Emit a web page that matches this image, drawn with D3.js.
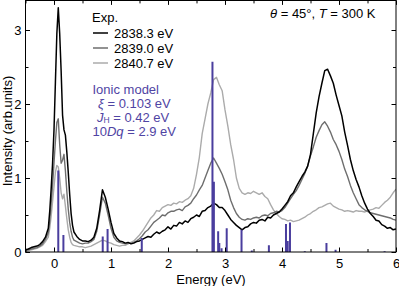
<!DOCTYPE html>
<html><head><meta charset="utf-8">
<script src="https://cdn.jsdelivr.net/npm/d3@7"></script>
<style>
body{margin:0;background:#fff}
svg{display:block}
text{font-family:"Liberation Sans",Arial,Helvetica,sans-serif}
</style>
</head><body>
<svg id="c" width="399" height="286"></svg>
<script>
// Energy grid (eV)
const energy = [
 -0.5,-0.45,-0.4,-0.35,-0.3,-0.25,-0.2,-0.15,
 -0.1,-0.075,-0.05,-0.025,0,0.025,0.05,0.075,0.1,0.125,0.15,0.175,0.2,0.225,0.25,0.275,0.3,0.325,0.35,
 0.40,0.45,0.50,0.55,0.60,0.65,0.70,0.75,0.80,0.85,
 0.90,0.95,1.00,1.05,1.10,1.15,1.20,1.25,1.30,1.35,
 1.40,1.45,1.50,1.55,1.60,1.65,1.70,1.75,1.80,1.85,
 1.90,1.95,2.00,2.05,2.10,2.15,2.20,2.25,2.30,2.35,
 2.40,2.45,2.50,2.55,2.60,2.65,2.70,2.75,2.80,2.85,
 2.90,2.95,3.00,3.05,3.10,3.15,3.20,3.25,3.30,3.35,
 3.40,3.45,3.50,3.55,3.60,3.65,3.70,3.75,3.80,3.85,
 3.90,3.95,4.00,4.05,4.10,4.15,4.20,4.25,4.30,4.35,
 4.40,4.45,4.50,4.55,4.60,4.65,4.70,4.75,4.80,4.85,
 4.90,4.95,5.00,5.05,5.10,5.15,5.20,5.25,5.30,5.35,
 5.40,5.45,5.50,5.55,5.60,5.65,5.70,5.75,5.80,5.85,
 5.90,5.95,6.00
];
// Experimental spectra (arb. units)
const exp2838_3 = [
 0.03,0.04,0.06,0.07,0.08,0.10,0.14,0.20,
 0.32,0.55,0.85,1.20,1.65,2.30,2.95,3.30,2.95,2.45,1.85,1.65,1.58,1.35,1.08,0.78,0.52,0.36,0.27,
 0.21,0.17,0.15,0.15,0.14,0.16,0.20,0.32,0.56,0.84,
 0.74,0.58,0.40,0.25,0.19,0.15,0.14,0.12,0.13,0.11,
 0.12,0.14,0.15,0.17,0.19,0.21,0.20,0.24,0.27,0.25,
 0.28,0.30,0.34,0.31,0.36,0.35,0.40,0.38,0.42,0.40,
 0.45,0.47,0.50,0.48,0.55,0.56,0.60,0.62,0.66,0.64,
 0.60,0.60,0.56,0.50,0.44,0.40,0.36,0.33,0.30,0.33,
 0.34,0.38,0.40,0.39,0.43,0.44,0.42,0.47,0.46,0.50,
 0.52,0.54,0.58,0.63,0.68,0.76,0.80,0.88,0.95,1.02,
 1.08,1.16,1.32,1.60,1.88,2.10,2.28,2.45,2.47,2.38,
 2.28,2.12,1.98,1.84,1.62,1.44,1.25,1.10,0.98,0.88,
 0.76,0.66,0.58,0.52,0.48,0.43,0.42,0.37,0.35,0.32,
 0.33,0.30,0.31
];
const exp2839_0 = [
 0.02,0.03,0.04,0.05,0.06,0.08,0.11,0.17,
 0.26,0.42,0.65,0.90,1.20,1.50,1.75,1.80,1.45,1.20,1.24,1.32,1.10,0.82,0.58,0.40,0.28,0.20,0.16,
 0.14,0.12,0.11,0.12,0.12,0.14,0.17,0.28,0.50,0.74,
 0.66,0.50,0.32,0.20,0.15,0.13,0.12,0.11,0.12,0.12,
 0.13,0.15,0.18,0.22,0.27,0.30,0.35,0.40,0.43,0.46,
 0.50,0.49,0.53,0.55,0.55,0.57,0.58,0.56,0.61,0.63,
 0.66,0.72,0.77,0.84,0.90,1.00,1.10,1.20,1.27,1.20,
 1.13,1.05,0.95,0.84,0.70,0.60,0.52,0.47,0.44,0.43,
 0.45,0.44,0.46,0.47,0.46,0.49,0.50,0.49,0.52,0.53,
 0.55,0.54,0.56,0.60,0.66,0.72,0.78,0.83,0.90,0.98,
 1.06,1.16,1.30,1.42,1.55,1.64,1.72,1.76,1.70,1.62,
 1.52,1.45,1.36,1.25,1.12,1.02,0.90,0.80,0.72,0.64,
 0.60,0.57,0.55,0.53,0.52,0.51,0.50,0.49,0.48,0.47,
 0.46,0.44,0.43
];
const exp2840_7 = [
 0.01,0.02,0.03,0.04,0.05,0.07,0.09,0.14,
 0.20,0.32,0.48,0.68,0.88,1.08,1.17,1.15,1.00,0.80,0.72,0.78,0.62,0.45,0.30,0.20,0.13,0.10,0.09,
 0.08,0.07,0.07,0.06,0.07,0.08,0.10,0.12,0.14,0.16,
 0.15,0.13,0.12,0.10,0.09,0.08,0.09,0.09,0.11,0.13,
 0.15,0.19,0.23,0.28,0.34,0.40,0.46,0.50,0.56,0.55,
 0.60,0.62,0.64,0.63,0.66,0.65,0.68,0.67,0.70,0.72,
 0.76,0.86,1.05,1.28,1.60,1.80,2.00,2.15,2.33,2.36,
 2.26,2.18,1.92,1.70,1.45,1.25,1.00,0.86,0.80,0.78,
 0.80,0.79,0.82,0.80,0.78,0.80,0.75,0.72,0.64,0.57,
 0.52,0.48,0.45,0.44,0.42,0.43,0.41,0.42,0.43,0.45,
 0.47,0.50,0.52,0.55,0.57,0.60,0.61,0.63,0.65,0.66,
 0.62,0.60,0.58,0.57,0.55,0.56,0.55,0.54,0.56,0.55,
 0.55,0.54,0.56,0.57,0.58,0.60,0.59,0.63,0.67,0.70,
 0.74,0.80,0.85
];
// Ionic model transitions
const stickEnergy    = [0.075,0.165,0.855,0.94,1.54,2.78,2.805,2.88,2.90,2.94,3.03,3.29,3.47,3.77,4.07,4.10,4.14,4.40,4.78,4.94,5.80];
const stickIntensity = [1.10, 0.23, 0.21, 0.31,0.19,2.57,0.95, 0.28,0.12,0.05,0.32,0.30,0.02,0.09,0.38,0.15,0.40,0.01,0.12,0.03,0.01];

const seriesNames  = ["2838.3 eV","2839.0 eV","2840.7 eV"];
const seriesValues = [exp2838_3, exp2839_0, exp2840_7];
const seriesColors = ["#000000","#6e6e6e","#ababab"];
const xTicks = [0,1,2,3,4,5,6];
const yTicks = [0,1,2,3];

const svg = d3.select("#c");
const x = d3.scaleLinear().domain([-0.5,6]).range([25.5,396]);
const y = d3.scaleLinear().domain([0,3.4]).range([252,0.4]);
const fs = 13;

svg.append("defs").append("clipPath").attr("id","clip")
  .append("rect").attr("x",25.5).attr("y",0.4).attr("width",370.5).attr("height",251.6);

// lines
const line = d3.line().x((d,i)=>x(energy[i])).y(d=>y(d));
const g = svg.append("g").attr("clip-path","url(#clip)");
[2,1,0].forEach(k=>{
  g.append("path").datum(seriesValues[k])
   .attr("fill","none").attr("stroke",seriesColors[k])
   .attr("stroke-width",k===0?1.5:1.4).attr("stroke-linejoin","round")
   .attr("d",line);
});
// sticks
g.selectAll("line.stick").data(stickEnergy).enter().append("line")
  .attr("class","stick")
  .attr("x1",d=>x(d)).attr("x2",d=>x(d))
  .attr("y1",y(0)).attr("y2",(d,i)=>y(stickIntensity[i]))
  .attr("stroke","#4a3e9e").attr("stroke-width",2);

// axes
function styleAxis(sel){
  sel.select(".domain").remove();
  sel.selectAll("line").attr("stroke","#000").attr("stroke-width",1);
  sel.selectAll("text").attr("font-size",fs).attr("fill","#000")
     .attr("font-family",'"Liberation Sans",Arial,sans-serif');
}
const xMinor = [-0.5,0.5,1.5,2.5,3.5,4.5,5.5];
const yMinor = [0.5,1.5,2.5];
svg.append("g").attr("transform","translate(0,252)")
  .call(d3.axisBottom(x).tickValues(xTicks).tickFormat(d3.format("d")).tickSizeInner(-4.5).tickSizeOuter(0).tickPadding(6.5))
  .call(styleAxis);
svg.append("g").attr("transform","translate(0,252)")
  .call(d3.axisBottom(x).tickValues(xMinor).tickFormat("").tickSizeInner(-3).tickSizeOuter(0)).call(styleAxis);
svg.append("g").attr("transform","translate(0,0.4)")
  .call(d3.axisTop(x).tickValues(xTicks).tickFormat("").tickSizeInner(-4.5).tickSizeOuter(0)).call(styleAxis);
svg.append("g").attr("transform","translate(0,0.4)")
  .call(d3.axisTop(x).tickValues(xMinor).tickFormat("").tickSizeInner(-3).tickSizeOuter(0)).call(styleAxis);
svg.append("g").attr("transform","translate(25.5,0)")
  .call(d3.axisLeft(y).tickValues(yTicks).tickFormat(d3.format("d")).tickSizeInner(-4.5).tickSizeOuter(0).tickPadding(4))
  .call(styleAxis);
svg.append("g").attr("transform","translate(25.5,0)")
  .call(d3.axisLeft(y).tickValues(yMinor).tickFormat("").tickSizeInner(-3).tickSizeOuter(0)).call(styleAxis);
svg.append("g").attr("transform","translate(396,0)")
  .call(d3.axisRight(y).tickValues(yTicks).tickFormat("").tickSizeInner(-4.5).tickSizeOuter(0)).call(styleAxis);
svg.append("g").attr("transform","translate(396,0)")
  .call(d3.axisRight(y).tickValues(yMinor).tickFormat("").tickSizeInner(-3).tickSizeOuter(0)).call(styleAxis);

// frame
svg.append("rect").attr("x",25.5).attr("y",0.5).attr("width",370.5).attr("height",251.5)
  .attr("fill","none").attr("stroke","#000").attr("stroke-width",1);

// axis titles
svg.append("text").attr("x",211).attr("y",283.5).attr("text-anchor","middle")
  .attr("font-size",fs).text("Energy (eV)");
svg.append("text").attr("transform","translate(12,131) rotate(-90)").attr("text-anchor","middle")
  .attr("font-size",fs).text("Intensity (arb.units)");

// legend
svg.append("text").attr("x",92).attr("y",21.5).attr("font-size",fs).text("Exp.");
seriesNames.forEach((nm,i)=>{
  const yy = 33 + i*15;
  svg.append("line").attr("x1",93).attr("x2",108).attr("y1",yy).attr("y2",yy)
    .attr("stroke",seriesColors[i]).attr("stroke-width",1.5);
  svg.append("text").attr("x",114).attr("y",yy+4.5).attr("font-size",fs).text(nm);
});

// ionic model annotation
const pc = "#4f44a3";
const ann = svg.append("g").attr("fill",pc).attr("font-size",fs);
ann.append("text").attr("x",92.5).attr("y",94).text("Ionic model");
const t1 = ann.append("text").attr("x",98).attr("y",108);
t1.append("tspan").attr("font-style","italic").text("ξ");
t1.append("tspan").text(" = 0.103 eV");
const t2 = ann.append("text").attr("x",97).attr("y",121.5);
t2.append("tspan").attr("font-style","italic").text("J");
t2.append("tspan").attr("font-size",8.5).attr("dy",1.5).text("H");
t2.append("tspan").attr("dy",-1.5).text(" = 0.42 eV");
const t3 = ann.append("text").attr("x",92.5).attr("y",135.5);
t3.append("tspan").text("10");
t3.append("tspan").attr("font-style","italic").text("Dq");
t3.append("tspan").text(" = 2.9 eV");

// conditions
const tc = svg.append("text").attr("x",270).attr("y",17.5).attr("font-size",fs);
tc.append("tspan").attr("font-style","italic").text("θ");
tc.append("tspan").text(" = 45°, ");
tc.append("tspan").attr("font-style","italic").text("T");
tc.append("tspan").text(" = 300 K");
</script>
</body></html>
